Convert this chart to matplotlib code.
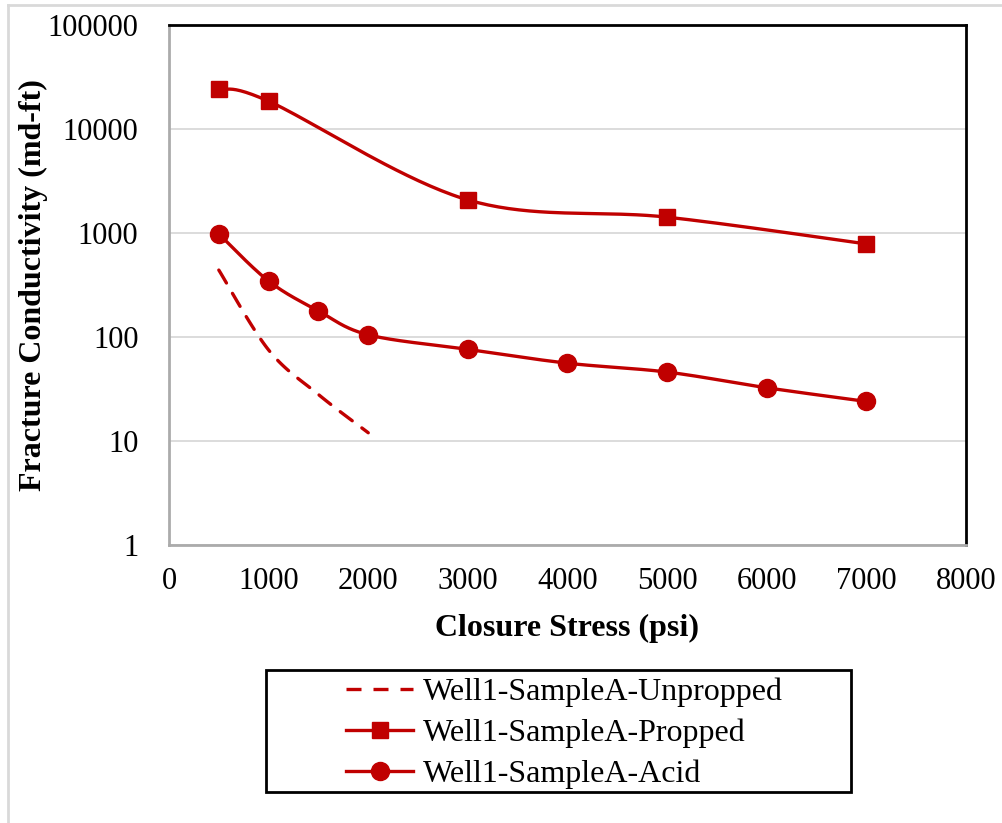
import numpy as np
import matplotlib
matplotlib.use("Agg")
import matplotlib.pyplot as plt
from matplotlib.lines import Line2D
from matplotlib.patches import Rectangle

# ---- data ----
unpropped_x = [500, 1000, 1500, 2000]
unpropped_y = [440, 75, 28, 12]
propped_x = [500, 1000, 3000, 5000, 7000]
propped_y = [24000, 18500, 2080, 1420, 785]
acid_x = [500, 1000, 1500, 2000, 3000, 4000, 5000, 6000, 7000]
acid_y = [980, 345, 178, 105, 76, 56, 46, 32.5, 24]
series_names = ["Well1-SampleA-Unpropped", "Well1-SampleA-Propped", "Well1-SampleA-Acid"]

RED = "#C00000"
plt.rcParams['font.family'] = ['Liberation Serif', 'DejaVu Serif']

def smooth(xs, ys, n=40):
    # Excel-like smoothed line: Catmull-Rom through points in (x, log y) space
    px = np.asarray(xs, float) / 1000.0 * 99.6
    py = np.log10(np.asarray(ys, float)) * 104.0
    P = np.column_stack([px, py])
    out = []
    m = len(P)
    for i in range(m - 1):
        p0 = P[i - 1] if i > 0 else P[i]
        p1 = P[i]
        p2 = P[i + 1]
        p3 = P[i + 2] if i + 2 < m else P[i + 1]
        c1 = p1 + (p2 - p0) / 6.0
        c2 = p2 - (p3 - p1) / 6.0
        t = np.linspace(0, 1, n)[:, None]
        seg = ((1 - t) ** 3) * p1 + 3 * ((1 - t) ** 2) * t * c1 + 3 * (1 - t) * t ** 2 * c2 + t ** 3 * p2
        out.append(seg if i == 0 else seg[1:])
    S = np.vstack(out)
    return S[:, 0] / 99.6 * 1000.0, 10 ** (S[:, 1] / 104.0)

fig = plt.figure(figsize=(10.03, 8.23), dpi=100)
ax = fig.add_axes([169 / 1003, 1 - 545 / 823, (966 - 169) / 1003, (545 - 25) / 823])

ax.set_yscale('log')
ax.set_xlim(0, 8000)
ax.set_ylim(1, 100000)
ax.set_xticks(range(0, 8001, 1000))
ax.set_yticks([1, 10, 100, 1000, 10000, 100000])
ax.set_yticklabels(["1", "10", "100", "1000", "10000", "100000"])
ax.minorticks_off()
ax.tick_params(axis='both', length=0, labelsize=22)
ax.tick_params(axis='x', pad=16)
ax.tick_params(axis='y', pad=22)
ax.yaxis.grid(True, color="#d9d9d9", linewidth=1.3)
ax.set_axisbelow(True)
for s in ['left', 'bottom']:
    ax.spines[s].set_color("#ababab")
    ax.spines[s].set_linewidth(2)
for s in ['top', 'right']:
    ax.spines[s].set_color("black")
    ax.spines[s].set_linewidth(2)

sx, sy = smooth(unpropped_x, unpropped_y)
ax.plot(sx, sy, color=RED, lw=2.4, dashes=(4.5, 3.6), dash_capstyle='round')
sx, sy = smooth(propped_x, propped_y)
ax.plot(sx, sy, color=RED, lw=2.4)
ax.plot(propped_x, propped_y, ls='none', marker='s', ms=12, color=RED)
sx, sy = smooth(acid_x, acid_y)
ax.plot(sx, sy, color=RED, lw=2.4)
ax.plot(acid_x, acid_y, ls='none', marker='o', ms=13, color=RED)

ax.set_xlabel("Closure Stress (psi)", fontsize=23, fontweight='bold')
ax.xaxis.set_label_coords(0.5, -(628 - 545) / 520, transform=ax.transAxes)
ax.xaxis.label.set_va('center')
ax.set_ylabel("Fracture Conductivity (md-ft)", fontsize=23, fontweight='bold')
ax.yaxis.set_label_coords(-(169 - 33) / 797, 0.5, transform=ax.transAxes)
ax.yaxis.label.set_va('center')

# legend
handles = [
    Line2D([], [], color=RED, lw=2.4, dashes=(4.5, 3.6)),
    Line2D([], [], color=RED, lw=2.4, marker='s', ms=12),
    Line2D([], [], color=RED, lw=2.4, marker='o', ms=13),
]
leg = fig.legend(handles, series_names, loc='center left',
                 bbox_to_anchor=(324 / 1003, 1 - 733 / 823), frameon=False,
                 fontsize=23, handlelength=2.1, handletextpad=0.28, labelspacing=0.36,
                 borderpad=0.2)
fig.patches.append(Rectangle((266 / 1003, 1 - 792 / 823), (851 - 266) / 1003, (792 - 670) / 823,
                             transform=fig.transFigure, fill=False, edgecolor='black', lw=2))

# outer chart border (partially visible)
fig.add_artist(Line2D([8 / 1003, 1], [1 - 5 / 823, 1 - 5 / 823], transform=fig.transFigure, color="#d9d9d9", lw=2))
fig.add_artist(Line2D([8 / 1003, 8 / 1003], [0, 1 - 5 / 823], transform=fig.transFigure, color="#d9d9d9", lw=2))

fig.savefig("out.png", dpi=100)
